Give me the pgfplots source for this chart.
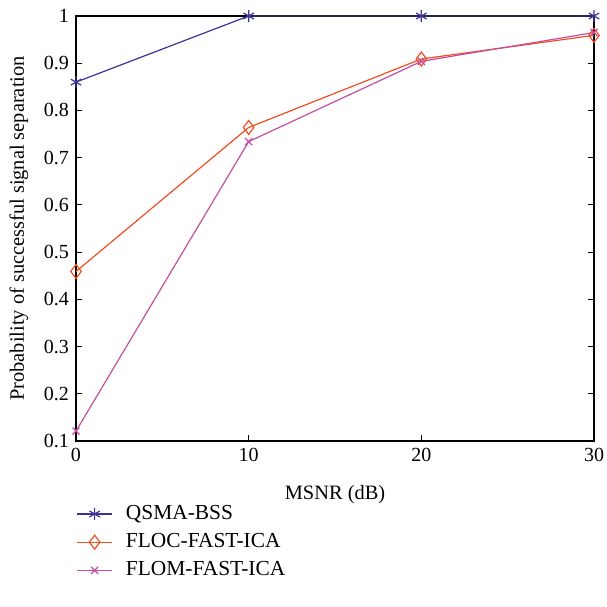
\documentclass[border=0pt]{standalone}
\usepackage{pgfplots}
\pgfplotsset{compat=1.18}
\usepackage{fontspec}
\setmainfont{Liberation Serif}
\definecolor{colq}{HTML}{3B3399}
\definecolor{colf}{HTML}{F04E23}
\definecolor{colm}{HTML}{C44FA0}
\begin{document}
\begin{tikzpicture}
\begin{axis}[
  name=ax,
  width=259pt, height=212.5pt, scale only axis,
  xmin=0, xmax=30, ymin=0.1, ymax=1,
  xtick={0,10,20,30}, ytick={0.1,0.2,0.3,0.4,0.5,0.6,0.7,0.8,0.9,1.0},
  yticklabels={0.1,0.2,0.3,0.4,0.5,0.6,0.7,0.8,0.9,1},
  tick align=inside, tick style={black, line width=0.5pt},
  major tick length=3pt,
  axis line style={line width=0.6pt},
  /pgf/number format/assume math mode=true,
  ticklabel style={font=\fontsize{10}{12}\selectfont},
  xlabel={MSNR (dB)}, ylabel={Probability of successful signal separation},
  label style={font=\fontsize{10.2}{12}\selectfont},
  xlabel style={yshift=-5pt},
  ylabel style={yshift=1pt},
  legend style={at={(rel axis cs:0,0)}, anchor=north west, yshift=-28pt, xshift=-3pt,
    draw=none, fill=none, font=\fontsize{10.7}{12}\selectfont, row sep=1.5pt},
  legend cell align=left,
  legend image code/.code={\draw[#1,mark=none] (0cm,0cm) -- (0.62cm,0cm); \draw[#1,only marks] plot coordinates {(0.31cm,0cm)}; \path (0.78cm,0cm);},
  clip=false,
]
\addplot[colq, line width=0.6pt, mark=asterisk, mark size=3pt] coordinates {(0,0.86) (10,1) (20,1) (30,1)};
\addlegendentry{QSMA-BSS}
\addplot[colf, line width=0.6pt, mark=diamond, mark size=3.5pt] coordinates {(0,0.459) (10,0.764) (20,0.909) (30,0.959)};
\addlegendentry{FLOC-FAST-ICA}
\addplot[colm, line width=0.6pt, mark=x, mark size=2.5pt] coordinates {(0,0.121) (10,0.734) (20,0.904) (30,0.965)};
\addlegendentry{FLOM-FAST-ICA}
\end{axis}
\pgfresetboundingbox
\path[use as bounding box] ([xshift=-38pt,yshift=8pt]ax.north west) rectangle ([xshift=6pt,yshift=-83pt]ax.south east);
\end{tikzpicture}
\end{document}
